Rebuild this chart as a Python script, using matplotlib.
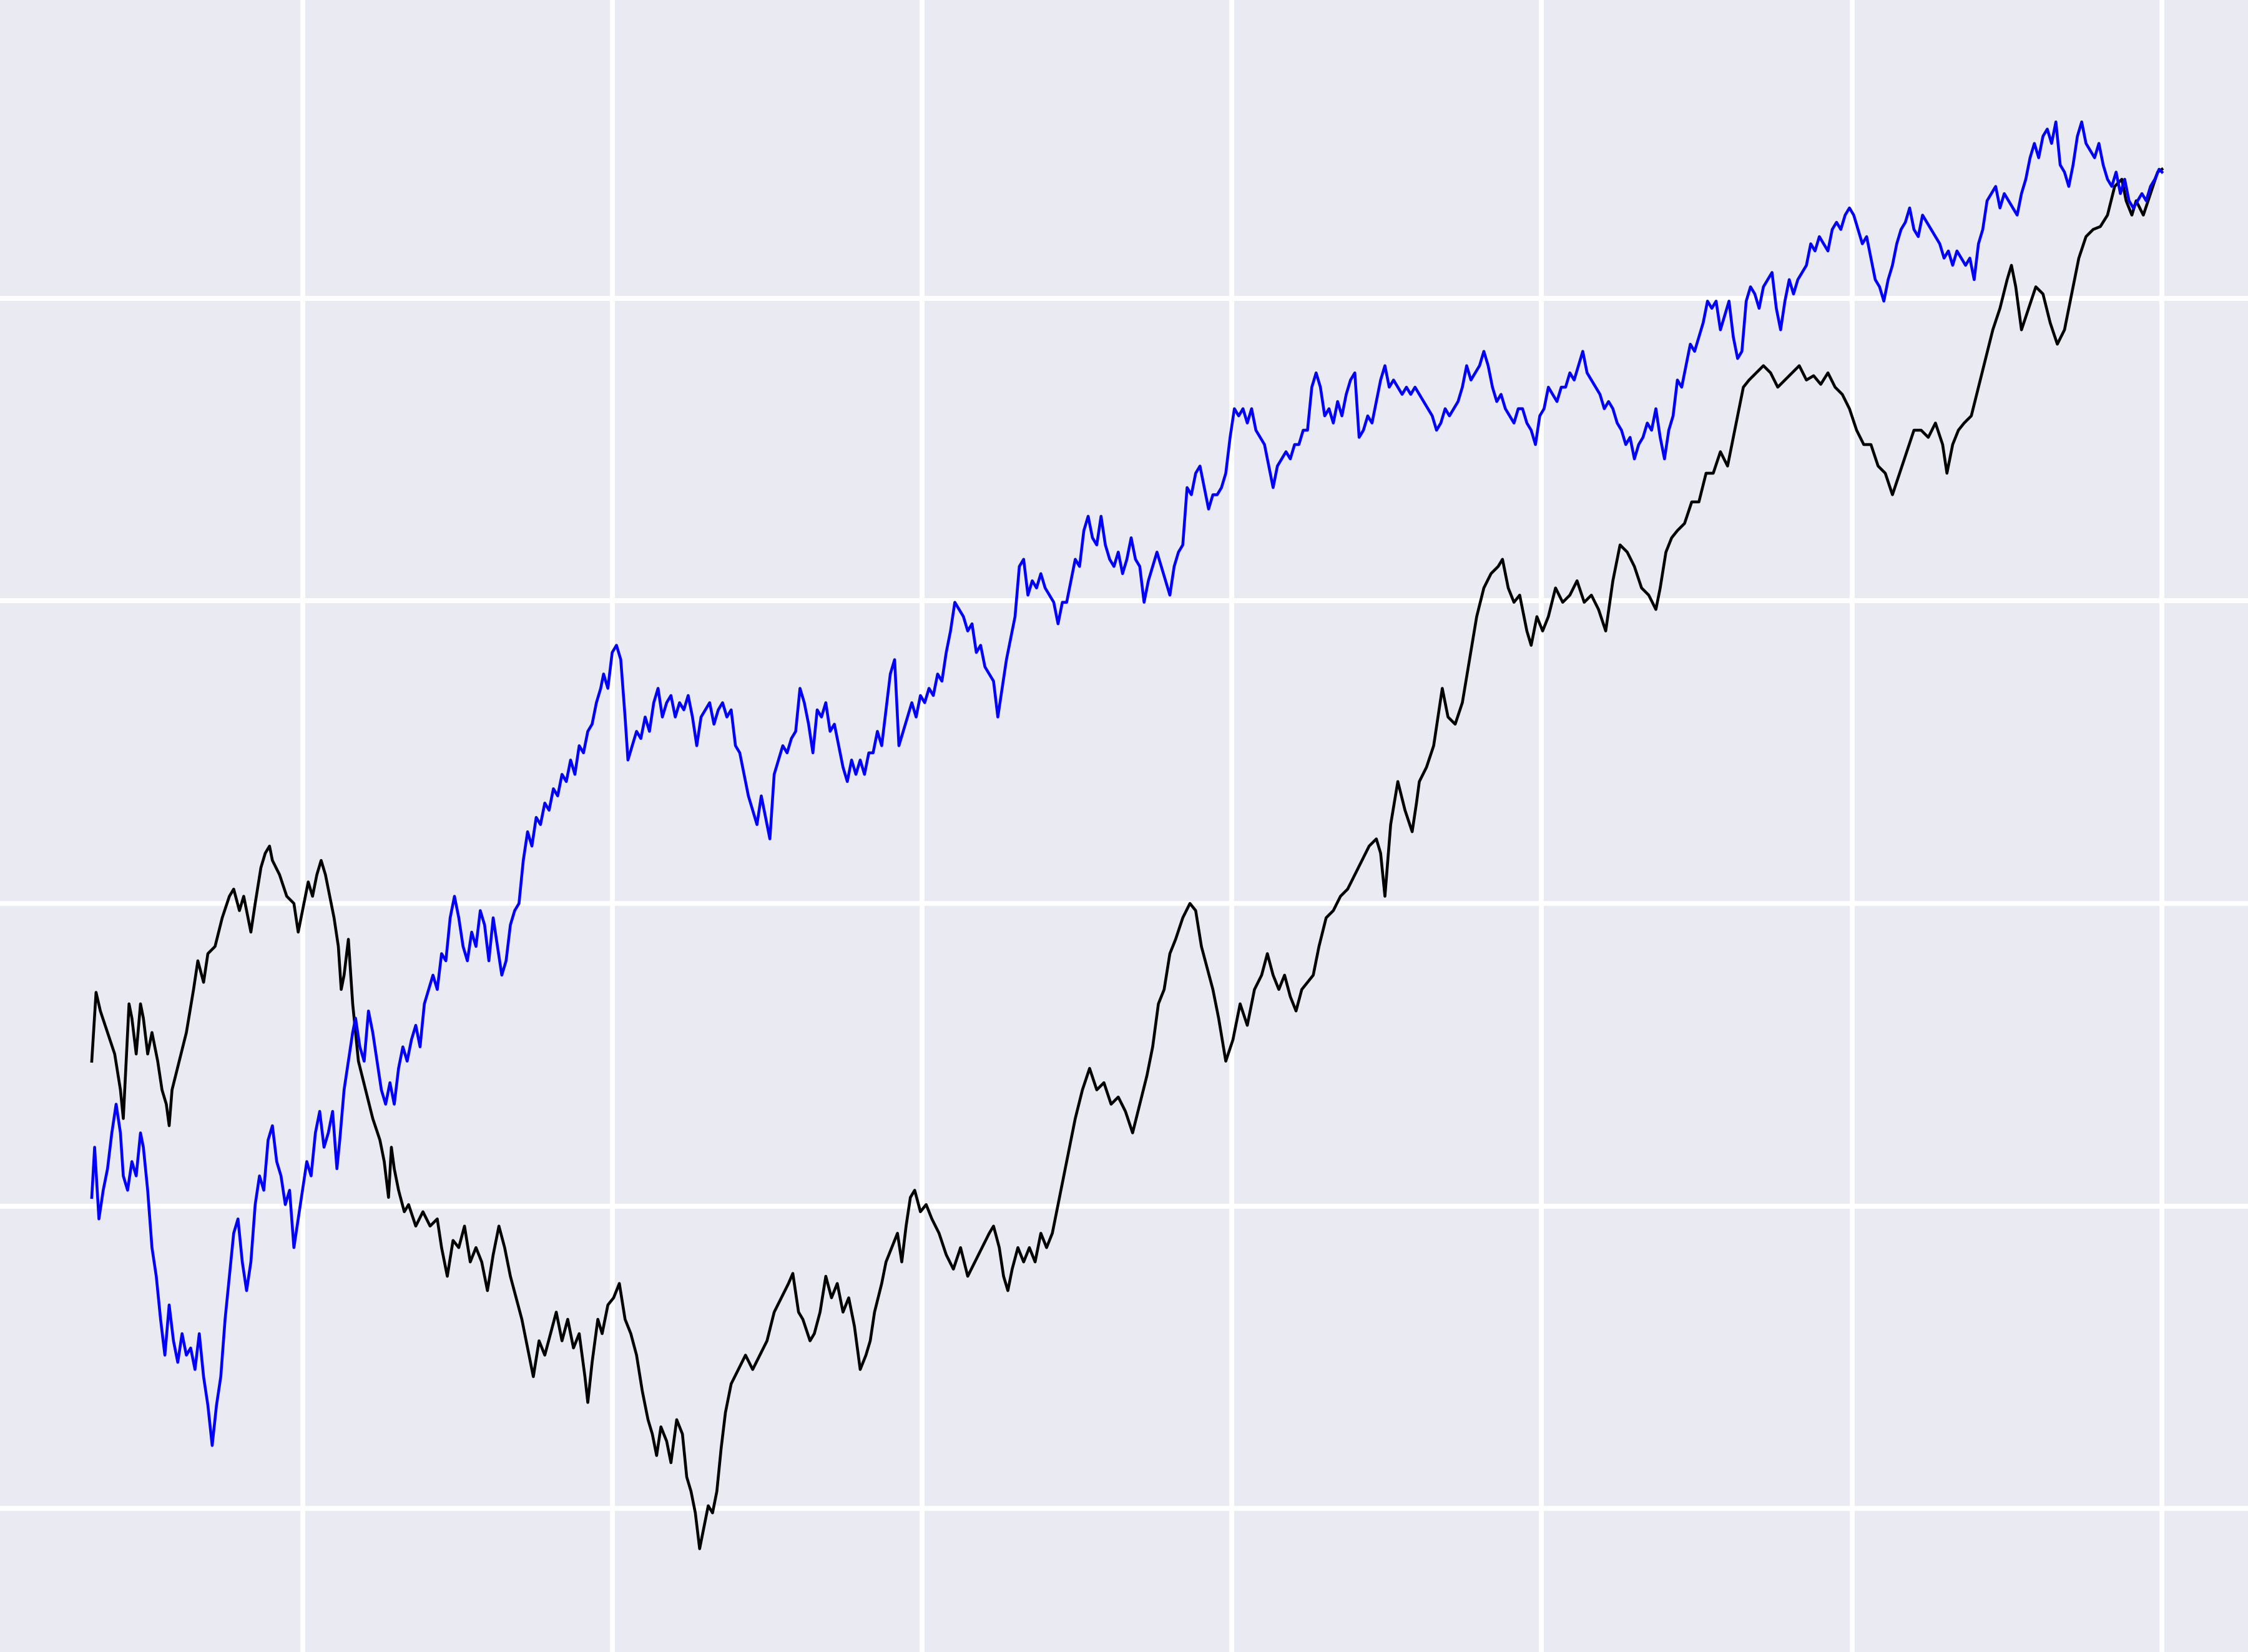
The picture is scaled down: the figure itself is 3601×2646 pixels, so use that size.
## Two random-walk style series on a seaborn "darkgrid" look, no labels
import matplotlib
matplotlib.use("Agg")
import matplotlib.pyplot as plt

## black series: step position and level
black_x = [0, 3, 6, 11, 16, 20, 22, 24, 26, 28, 31, 34, 36, 39, 42, 46, 49, 52, 54, 56,
           61, 66, 71, 74, 78, 81, 86, 91, 96, 99, 103, 106, 111, 114, 118, 121, 124, 126, 131, 136,
           141, 144, 148, 151, 154, 157, 160, 163, 166, 169, 172, 174, 176, 179, 182, 186, 191, 196, 201, 204,
           207, 209, 211, 214, 218, 221, 226, 231, 236, 241, 244, 248, 252, 256, 260, 264, 268, 272, 276, 280,
           284, 288, 292, 296, 300, 304, 308, 312, 316, 320, 324, 328, 332, 336, 340, 344, 346, 349, 353, 356,
           360, 364, 368, 372, 376, 380, 384, 388, 391, 394, 397, 401, 404, 408, 412, 415, 418, 421, 424, 427,
           430, 433, 436, 439, 442, 446, 451, 456, 461, 466, 471, 476, 481, 486, 489, 493, 496, 501, 504, 508,
           512, 516, 520, 524, 528, 532, 536, 540, 543, 546, 551, 554, 558, 562, 565, 568, 571, 574, 578, 582,
           586, 591, 596, 601, 606, 611, 616, 621, 626, 629, 633, 636, 639, 642, 646, 650, 654, 658, 662, 666,
           670, 674, 678, 682, 686, 691, 696, 701, 706, 711, 716, 721, 726, 731, 736, 740, 744, 748, 752, 756,
           761, 766, 770, 774, 778, 782, 786, 791, 796, 801, 806, 811, 816, 820, 824, 828, 832, 836, 840, 844,
           848, 852, 856, 861, 866, 871, 876, 881, 886, 891, 896, 899, 902, 906, 911, 916, 921, 924, 926, 931,
           936, 939, 942, 946, 951, 956, 961, 966, 971, 976, 981, 984, 988, 992, 996, 1001, 1004, 1008, 1012, 1016,
           1021, 1026, 1031, 1036, 1041, 1046, 1051, 1056, 1061, 1066, 1071, 1076, 1081, 1086, 1091, 1094, 1098, 1102, 1106, 1111,
           1116, 1121, 1126, 1131, 1136, 1141, 1146, 1149, 1152, 1156, 1161, 1166, 1171, 1176, 1181, 1186, 1191, 1196, 1201, 1206,
           1211, 1216, 1221, 1226, 1231, 1236, 1241, 1246, 1251, 1256, 1261, 1266, 1271, 1276, 1281, 1286, 1291, 1294, 1298, 1302,
           1306, 1311, 1316, 1321, 1326, 1331, 1336, 1339, 1342, 1346, 1351, 1356, 1361, 1366, 1371, 1376, 1381, 1386, 1391, 1396,
           1401, 1406, 1411, 1416, 1419, 1423, 1426, 1431, 1436, 1441, 1444]
black_y = [412, 460, 447, 432, 417, 392, 372, 412, 452, 442, 417, 452, 442, 417, 432, 412, 392, 382, 367, 392,
           412, 432, 462, 482, 467, 487, 492, 512, 527, 532, 517, 527, 502, 522, 547, 557, 562, 552, 542, 527,
           522, 502, 522, 537, 527, 542, 552, 542, 527, 512, 492, 462, 472, 497, 452, 412, 392, 372, 357, 342,
           317, 352, 337, 322, 307, 312, 297, 307, 297, 302, 282, 262, 287, 282, 297, 272, 282, 272, 252, 277,
           297, 282, 262, 247, 232, 212, 192, 217, 207, 222, 237, 217, 232, 212, 222, 192, 174, 202, 232, 222,
           242, 247, 257, 232, 222, 207, 182, 162, 152, 137, 157, 147, 132, 162, 152, 122, 112, 97, 72, 87,
           102, 97, 112, 142, 167, 187, 197, 207, 197, 207, 217, 237, 247, 257, 264, 237, 232, 217, 222, 237,
           262, 247, 257, 237, 247, 227, 197, 207, 217, 237, 257, 272, 282, 292, 272, 297, 317, 322, 307, 312,
           302, 292, 277, 267, 282, 262, 272, 282, 292, 297, 282, 262, 252, 267, 282, 272, 282, 272, 292, 282,
           292, 312, 332, 352, 372, 392, 407, 392, 397, 382, 387, 377, 362, 382, 402, 422, 452, 462, 487, 497,
           512, 522, 517, 492, 477, 462, 442, 412, 427, 452, 437, 462, 472, 487, 472, 462, 472, 457, 447, 462,
           467, 472, 492, 512, 517, 527, 532, 542, 552, 562, 567, 557, 527, 577, 607, 587, 572, 592, 607, 617,
           632, 652, 672, 652, 647, 662, 692, 722, 742, 752, 757, 762, 742, 732, 737, 712, 702, 722, 712, 722,
           742, 732, 737, 747, 732, 737, 727, 712, 747, 772, 767, 757, 742, 737, 727, 742, 767, 777, 782, 787,
           802, 802, 822, 822, 837, 827, 852, 867, 882, 887, 892, 897, 892, 882, 887, 892, 897, 887, 890, 884,
           892, 882, 877, 867, 852, 842, 842, 827, 822, 807, 822, 837, 852, 852, 847, 857, 842, 822, 842, 852,
           857, 862, 882, 902, 922, 937, 957, 967, 952, 922, 937, 952, 947, 927, 912, 922, 947, 972, 987, 992,
           994, 1002, 1022, 1027, 1012, 1002, 1012, 1002, 1017, 1032, 1034]

## blue series
blue_x = [0, 2, 5, 8, 11, 14, 17, 20, 22, 25, 28, 31, 34, 36, 39, 42, 45, 48, 51, 54,
          57, 60, 63, 66, 69, 72, 75, 78, 81, 84, 87, 90, 93, 96, 99, 102, 105, 108, 111, 114,
          117, 120, 123, 126, 129, 132, 135, 138, 141, 144, 147, 150, 153, 156, 159, 162, 165, 168, 171, 173,
          176, 179, 182, 184, 187, 190, 193, 196, 199, 202, 205, 208, 211, 214, 217, 220, 223, 226, 229, 232,
          235, 238, 241, 244, 247, 250, 253, 256, 259, 262, 265, 268, 271, 274, 277, 280, 283, 286, 289, 292,
          295, 298, 301, 304, 307, 310, 313, 316, 319, 322, 325, 328, 331, 334, 337, 340, 343, 346, 349, 352,
          355, 357, 360, 363, 366, 369, 372, 374, 377, 380, 383, 386, 389, 392, 395, 398, 401, 404, 407, 410,
          413, 416, 419, 422, 425, 428, 431, 434, 437, 440, 443, 446, 449, 452, 455, 458, 461, 464, 467, 470,
          473, 476, 479, 482, 485, 488, 491, 494, 497, 500, 503, 506, 509, 512, 515, 518, 521, 524, 527, 530,
          533, 536, 539, 542, 545, 548, 551, 554, 557, 560, 563, 566, 569, 572, 575, 578, 581, 584, 587, 590,
          593, 596, 599, 602, 605, 608, 611, 614, 617, 620, 623, 626, 629, 632, 635, 638, 641, 644, 647, 650,
          653, 656, 659, 662, 665, 668, 671, 674, 677, 680, 683, 686, 689, 692, 695, 698, 701, 704, 707, 710,
          713, 716, 719, 722, 725, 728, 731, 734, 737, 740, 743, 746, 749, 752, 755, 758, 761, 764, 767, 770,
          773, 776, 779, 782, 785, 788, 791, 794, 797, 800, 803, 806, 809, 812, 815, 818, 821, 824, 827, 830,
          833, 836, 839, 842, 845, 848, 851, 854, 857, 860, 863, 866, 869, 872, 875, 878, 881, 884, 887, 890,
          893, 896, 899, 902, 905, 908, 911, 914, 917, 920, 923, 926, 929, 932, 935, 938, 941, 944, 947, 950,
          953, 956, 959, 962, 965, 968, 971, 974, 977, 980, 983, 986, 989, 992, 995, 998, 1001, 1004, 1007, 1010,
          1013, 1016, 1019, 1022, 1025, 1028, 1031, 1034, 1037, 1040, 1043, 1046, 1049, 1052, 1055, 1058, 1061, 1064, 1067, 1070,
          1073, 1076, 1079, 1082, 1085, 1088, 1091, 1094, 1097, 1100, 1103, 1106, 1109, 1112, 1115, 1118, 1121, 1124, 1127, 1130,
          1133, 1136, 1139, 1142, 1145, 1148, 1151, 1154, 1157, 1160, 1163, 1166, 1169, 1172, 1175, 1178, 1181, 1184, 1187, 1190,
          1193, 1196, 1199, 1202, 1205, 1208, 1211, 1214, 1217, 1220, 1223, 1226, 1229, 1232, 1235, 1238, 1241, 1244, 1247, 1250,
          1253, 1256, 1259, 1262, 1265, 1268, 1271, 1274, 1277, 1280, 1283, 1286, 1289, 1292, 1295, 1298, 1301, 1304, 1307, 1310,
          1313, 1316, 1319, 1322, 1325, 1328, 1331, 1334, 1337, 1340, 1343, 1346, 1349, 1352, 1355, 1358, 1361, 1364, 1367, 1370,
          1373, 1376, 1379, 1382, 1385, 1388, 1391, 1394, 1397, 1400, 1403, 1406, 1409, 1412, 1415, 1418, 1421, 1424, 1427, 1430,
          1433, 1436, 1439, 1442, 1444]
blue_y = [317, 352, 302, 322, 337, 362, 382, 362, 332, 322, 342, 332, 362, 352, 322, 282, 262, 232, 207, 242,
          217, 202, 222, 207, 212, 197, 222, 192, 172, 144, 172, 192, 232, 262, 292, 302, 272, 252, 272, 312,
          332, 322, 357, 367, 342, 332, 312, 322, 282, 302, 322, 342, 332, 362, 377, 352, 362, 377, 337, 357,
          392, 412, 432, 442, 422, 412, 447, 432, 412, 392, 382, 397, 382, 407, 422, 412, 427, 437, 422, 452,
          462, 472, 462, 487, 482, 512, 527, 512, 492, 482, 502, 492, 517, 507, 482, 512, 492, 472, 482, 507,
          517, 522, 552, 572, 562, 582, 577, 592, 587, 602, 597, 612, 607, 622, 612, 632, 627, 642, 647, 662,
          672, 682, 672, 697, 702, 692, 652, 622, 632, 642, 637, 652, 642, 662, 672, 652, 662, 667, 652, 662,
          657, 667, 652, 632, 652, 657, 662, 647, 657, 662, 652, 657, 632, 627, 612, 597, 587, 577, 597, 582,
          567, 612, 622, 632, 627, 637, 642, 672, 662, 647, 627, 657, 652, 662, 642, 647, 632, 617, 607, 622,
          612, 622, 612, 627, 627, 642, 632, 657, 682, 692, 632, 642, 652, 662, 652, 667, 662, 672, 667, 682,
          677, 697, 712, 732, 727, 722, 712, 717, 697, 702, 687, 682, 677, 652, 672, 692, 707, 722, 757, 762,
          737, 747, 742, 752, 742, 737, 732, 717, 732, 732, 747, 762, 757, 782, 792, 777, 772, 792, 772, 762,
          757, 767, 752, 762, 777, 762, 757, 732, 747, 757, 767, 757, 747, 737, 757, 767, 772, 812, 807, 822,
          827, 812, 797, 807, 807, 812, 822, 847, 867, 862, 867, 857, 867, 852, 847, 842, 827, 812, 827, 832,
          837, 832, 842, 842, 852, 852, 882, 892, 882, 862, 867, 857, 872, 862, 877, 887, 892, 847, 852, 862,
          857, 872, 887, 897, 882, 887, 882, 877, 882, 877, 882, 877, 872, 867, 862, 852, 857, 867, 862, 867,
          872, 882, 897, 887, 892, 897, 907, 897, 882, 872, 877, 867, 862, 857, 867, 867, 857, 852, 842, 862,
          867, 882, 877, 872, 882, 882, 892, 887, 897, 907, 892, 887, 882, 877, 867, 872, 867, 857, 852, 842,
          847, 832, 842, 847, 857, 852, 867, 847, 832, 852, 862, 887, 882, 897, 912, 907, 917, 927, 942, 937,
          942, 922, 932, 942, 917, 902, 907, 942, 952, 947, 937, 952, 957, 962, 937, 922, 942, 957, 947, 957,
          962, 967, 982, 977, 987, 982, 977, 992, 997, 992, 1002, 1007, 1002, 992, 982, 987, 972, 957, 952, 942,
          957, 967, 982, 992, 997, 1007, 992, 987, 1002, 997, 992, 987, 982, 972, 977, 967, 977, 972, 967, 972,
          957, 982, 992, 1012, 1017, 1022, 1007, 1017, 1012, 1007, 1002, 1017, 1027, 1042, 1052, 1042, 1057, 1062, 1052, 1067,
          1037, 1032, 1022, 1037, 1057, 1067, 1052, 1047, 1042, 1052, 1037, 1027, 1022, 1032, 1017, 1027, 1012, 1007, 1012, 1017,
          1012, 1022, 1027, 1034, 1032]

## grid positions used by the original axes
x_grid = [147, 363, 579, 795, 1011, 1228, 1444]
y_grid = [100, 311, 522, 733, 944]

plt.rcParams['axes.facecolor'] = '#EAEAF2'
plt.rcParams['figure.facecolor'] = '#EAEAF2'

fig = plt.figure(figsize=(3601 / 300, 2646 / 300), dpi=300)
ax = fig.add_axes([0, 0, 1, 1])

ax.plot(black_x, black_y, color='black', linewidth=1.1)
ax.plot(blue_x, blue_y, color='blue', linewidth=1.1)

ax.set_xlim(-64, 1504)
ax.set_ylim(0, 1152)
ax.set_xticks(x_grid)
ax.set_yticks(y_grid)
ax.grid(True, color='white', linewidth=1.9)
ax.set_axisbelow(True)
ax.tick_params(length=0, labelbottom=False, labelleft=False)
for s in ax.spines.values():
    s.set_visible(False)

fig.savefig('out.png', dpi=300)
